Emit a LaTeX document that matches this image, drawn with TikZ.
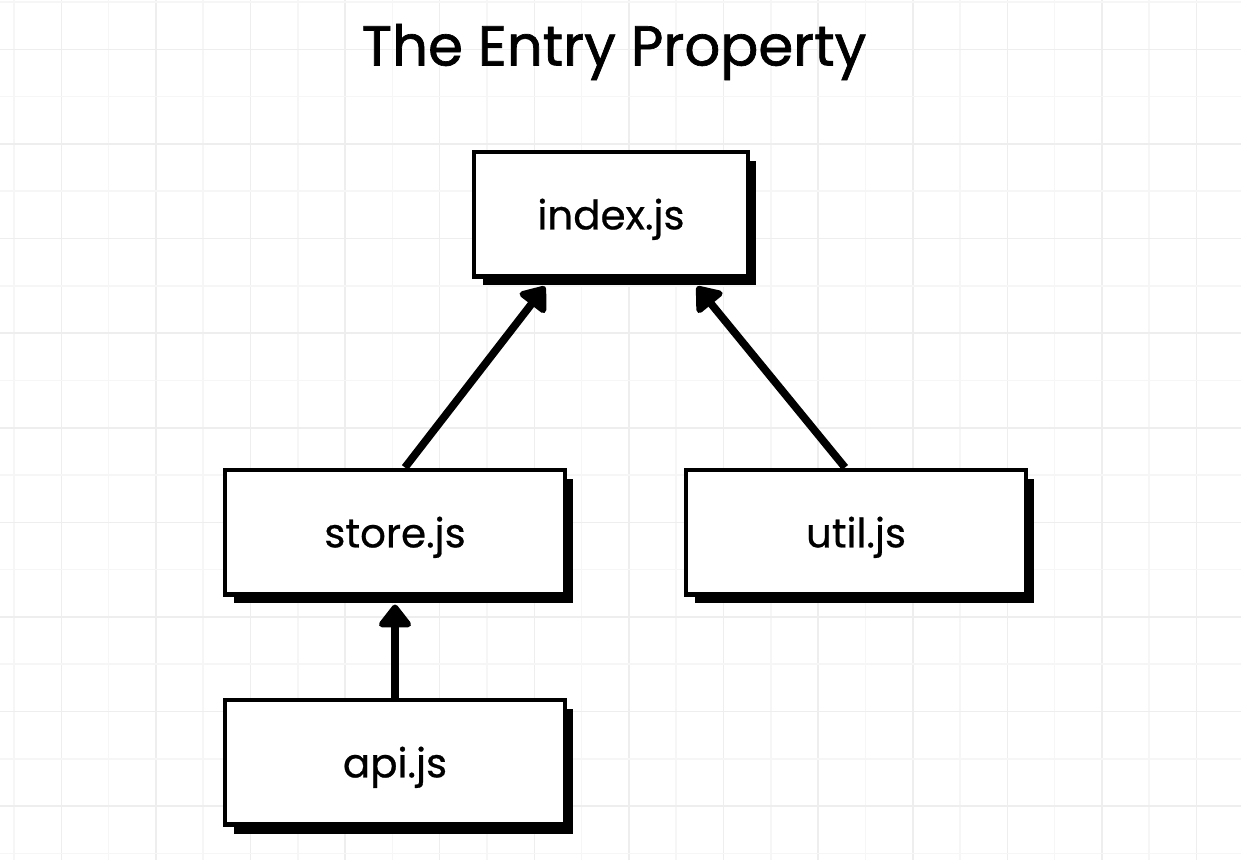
\documentclass[tikz,border=0pt]{standalone}
\usepackage{fontspec}
\setmainfont{Poppins}
\usepackage{tikz}
\usetikzlibrary{
    arrows.meta,
    shadows
}
\definecolor{gridminor}{RGB}{246,246,246}
\definecolor{gridmajor}{RGB}{238,238,238}

\begin{document}
\begin{tikzpicture}[
        x=0.02cm, y=-0.02cm,
        file/.style={
            draw, fill=white,
            line width=2.3pt,
            minimum height=2.5cm,
            text depth=0pt,
            font=\fontsize{23}{26}\selectfont\addfontfeatures{FakeBold=0.6},
            drop shadow={shadow xshift=0.17cm, shadow yshift=-0.18cm,
                opacity=1, fill=black}
        },
        link/.style={
            line width=4.4pt,
            -{Triangle[width=0.74cm, length=0.5cm, round]}
        }
    ]

    \useasboundingbox (0,0) rectangle (1241,860);
    \fill[white] (0,0) rectangle (1241,860);

    % squared paper
    \foreach \i in {0,...,25} {
        \pgfmathsetmacro{\gx}{14+47.3*\i}
        \ifodd\i \def\gc{gridmajor}\else\def\gc{gridminor}\fi
        \draw[\gc, line width=0.9pt] (\gx,0) -- (\gx,860);
    }
    \foreach \j in {0,...,18} {
        \pgfmathsetmacro{\gy}{2+47.3*\j}
        \ifodd\j \def\gc{gridmajor}\else\def\gc{gridminor}\fi
        \draw[\gc, line width=0.9pt] (0,\gy) -- (1241,\gy);
    }

    \node (title) at (614,52) {\fontsize{32}{36}\selectfont\addfontfeatures{FakeBold=1.2}The Entry Property};

    \node[file, minimum width=5.48cm] (index) at (611,214) {index.js};
    \node[file, minimum width=6.8cm] (store) at (395,532) {store.js};
    \node[file, minimum width=6.8cm] (util) at (856,532) {util.js};
    \node[file, minimum width=6.8cm] (api) at (395,762) {api.js};

    \draw[link] ([xshift=0.2cm]store.north) -- ([xshift=-1.32cm, yshift=-0.16cm]index.south);
    \draw[link] ([xshift=-0.22cm]util.north) -- ([xshift=1.72cm, yshift=-0.16cm]index.south);
    \draw[link] (api.north) -- ([yshift=-0.16cm]store.south);

\end{tikzpicture}
\end{document}
